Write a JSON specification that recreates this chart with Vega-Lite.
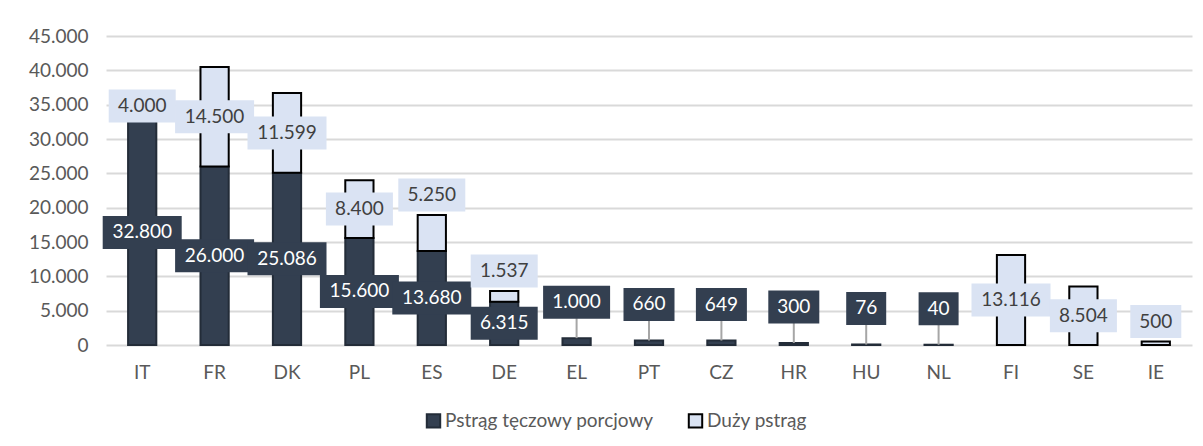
{
  "$schema": "https://vega.github.io/schema/vega-lite/v6.json",
  "width": 1086,
  "height": 309,
  "autosize": {"type": "none"},
  "padding": {"left": 106, "top": 36, "right": 11, "bottom": 101},
  "background": "#ffffff",
  "config": {
    "locale": {"number": {"decimal": ",", "thousands": ".", "grouping": [3], "currency": ["", ""]}},
    "view": {"stroke": null},
    "font": "Lato",
    "axisY": {"format": ",d", "tickCount": 9, "title": null, "ticks": false, "domain": false, "labelPadding": 18, "labelFont": "Lato", "labelFontSize": 19, "labelColor": "#595959", "gridColor": "#d9d9d9", "gridWidth": 2}
  },
  "data": {
    "values": [
      {"kraj": "IT", "seria": "Pstrąg tęczowy porcjowy", "wartosc": 32800},
      {"kraj": "IT", "seria": "Duży pstrąg", "wartosc": 4000},
      {"kraj": "FR", "seria": "Pstrąg tęczowy porcjowy", "wartosc": 26000},
      {"kraj": "FR", "seria": "Duży pstrąg", "wartosc": 14500},
      {"kraj": "DK", "seria": "Pstrąg tęczowy porcjowy", "wartosc": 25086},
      {"kraj": "DK", "seria": "Duży pstrąg", "wartosc": 11599},
      {"kraj": "PL", "seria": "Pstrąg tęczowy porcjowy", "wartosc": 15600},
      {"kraj": "PL", "seria": "Duży pstrąg", "wartosc": 8400},
      {"kraj": "ES", "seria": "Pstrąg tęczowy porcjowy", "wartosc": 13680},
      {"kraj": "ES", "seria": "Duży pstrąg", "wartosc": 5250},
      {"kraj": "DE", "seria": "Pstrąg tęczowy porcjowy", "wartosc": 6315},
      {"kraj": "DE", "seria": "Duży pstrąg", "wartosc": 1537},
      {"kraj": "EL", "seria": "Pstrąg tęczowy porcjowy", "wartosc": 1000},
      {"kraj": "PT", "seria": "Pstrąg tęczowy porcjowy", "wartosc": 660},
      {"kraj": "CZ", "seria": "Pstrąg tęczowy porcjowy", "wartosc": 649},
      {"kraj": "HR", "seria": "Pstrąg tęczowy porcjowy", "wartosc": 300},
      {"kraj": "HU", "seria": "Pstrąg tęczowy porcjowy", "wartosc": 76},
      {"kraj": "NL", "seria": "Pstrąg tęczowy porcjowy", "wartosc": 40},
      {"kraj": "FI", "seria": "Duży pstrąg", "wartosc": 13116},
      {"kraj": "SE", "seria": "Duży pstrąg", "wartosc": 8504},
      {"kraj": "IE", "seria": "Duży pstrąg", "wartosc": 500}
    ]
  },
  "transform": [
    {"stack": "wartosc", "groupby": ["kraj"], "sort": [{"field": "seria", "order": "descending"}], "as": ["y0", "y1"]}
  ],
  "encoding": {
    "x": {
      "field": "kraj", "type": "nominal",
      "sort": ["IT", "FR", "DK", "PL", "ES", "DE", "EL", "PT", "CZ", "HR", "HU", "NL", "FI", "SE", "IE"],
      "scale": {"paddingInner": 0.61, "paddingOuter": 0.305},
      "axis": {"title": null, "labelAngle": 0, "ticks": false, "domain": false, "labelPadding": 18, "labelFont": "Lato", "labelFontSize": 19, "labelColor": "#595959"}
    }
  },
  "layer": [
    {
      "mark": {"type": "bar", "strokeWidth": 2},
      "encoding": {
        "y": {
          "field": "y1", "type": "quantitative",
          "scale": {"domain": [0, 45000], "nice": false},
          "axis": {"title": null, "format": ",d", "tickCount": 9}
        },
        "y2": {"field": "y0"},
        "color": {
          "field": "seria", "type": "nominal",
          "scale": {"domain": ["Pstrąg tęczowy porcjowy", "Duży pstrąg"], "range": ["#333f50", "#dae3f3"]},
          "legend": {"title": null, "orient": "none", "legendX": 318, "legendY": 375, "direction": "horizontal", "symbolType": "square", "symbolSize": 180, "symbolStrokeWidth": 2, "labelFont": "Lato", "labelFontSize": 19, "labelColor": "#595959", "labelLimit": 400, "columnPadding": 30, "labelOffset": 2}
        },
        "stroke": {
          "field": "seria", "type": "nominal",
          "scale": {"domain": ["Pstrąg tęczowy porcjowy", "Duży pstrąg"], "range": ["#232c38", "#000000"]},
          "legend": {"title": null, "orient": "none", "legendX": 318, "legendY": 375, "direction": "horizontal", "symbolType": "square", "symbolSize": 180, "symbolStrokeWidth": 2, "labelFont": "Lato", "labelFontSize": 19, "labelColor": "#595959", "labelLimit": 400, "columnPadding": 30, "labelOffset": 2}
        }
      }
    },
    {
      "transform": [{"filter": "datum.seria == 'Pstrąg tęczowy porcjowy' && datum.wartosc < 2000"}],
      "mark": {"type": "rule", "color": "#a6a6a6", "strokeWidth": 2, "y2Offset": -20},
      "encoding": {
        "y": {"field": "y1", "type": "quantitative"},
        "y2": {"field": "y1"}
      }
    },
    {
      "transform": [
        {"fold": ["y0", "y1"], "as": ["k", "v"]},
        {"aggregate": [{"op": "mean", "field": "v", "as": "mid"}], "groupby": ["kraj", "seria", "wartosc", "y1"]}
      ],
      "layer": [
        {
          "transform": [{"filter": "!((datum.seria == 'Pstrąg tęczowy porcjowy' && datum.wartosc < 2000) || (datum.seria == 'Duży pstrąg' && datum.wartosc < 6000 && datum.y1 < 20000))"}],
          "layer": [
            {
              "mark": {"type": "tick", "orient": "horizontal", "thickness": 33, "opacity": 1},
              "encoding": {
                "y": {"field": "mid", "type": "quantitative"},
                "color": {"field": "seria", "type": "nominal"},
                "size": {"field": "wartosc", "type": "quantitative", "scale": {"type": "threshold", "domain": [100, 1000, 10000], "range": [40, 51, 67, 79]}, "legend": null}
              }
            },
            {
              "mark": {"type": "text", "font": "Lato", "fontSize": 19, "baseline": "middle", "align": "center"},
              "encoding": {
                "y": {"field": "mid", "type": "quantitative"},
                "text": {"field": "wartosc", "type": "quantitative", "format": ","},
                "fill": {"condition": {"test": "datum.seria == 'Duży pstrąg'", "value": "#404040"}, "value": "#ffffff"}
              }
            }
          ]
        },
        {
          "transform": [{"filter": "datum.seria == 'Pstrąg tęczowy porcjowy' && datum.wartosc < 2000"}],
          "layer": [
            {
              "mark": {"type": "tick", "orient": "horizontal", "thickness": 33, "opacity": 1, "yOffset": -36},
              "encoding": {
                "y": {"field": "y1", "type": "quantitative"},
                "color": {"field": "seria", "type": "nominal"},
                "size": {"field": "wartosc", "type": "quantitative", "scale": {"type": "threshold", "domain": [100, 1000, 10000], "range": [40, 51, 67, 79]}, "legend": null}
              }
            },
            {
              "mark": {"type": "text", "font": "Lato", "fontSize": 19, "baseline": "middle", "align": "center", "yOffset": -36, "fill": "#ffffff"},
              "encoding": {
                "y": {"field": "y1", "type": "quantitative"},
                "text": {"field": "wartosc", "type": "quantitative", "format": ","}
              }
            }
          ]
        },
        {
          "transform": [{"filter": "datum.seria == 'Duży pstrąg' && datum.wartosc < 6000 && datum.y1 < 20000"}],
          "layer": [
            {
              "mark": {"type": "tick", "orient": "horizontal", "thickness": 33, "opacity": 1, "yOffset": -20},
              "encoding": {
                "y": {"field": "y1", "type": "quantitative"},
                "color": {"field": "seria", "type": "nominal"},
                "size": {"field": "wartosc", "type": "quantitative", "scale": {"type": "threshold", "domain": [100, 1000, 10000], "range": [40, 51, 67, 79]}, "legend": null}
              }
            },
            {
              "mark": {"type": "text", "font": "Lato", "fontSize": 19, "baseline": "middle", "align": "center", "yOffset": -20, "fill": "#404040"},
              "encoding": {
                "y": {"field": "y1", "type": "quantitative"},
                "text": {"field": "wartosc", "type": "quantitative", "format": ","}
              }
            }
          ]
        }
      ]
    }
  ]
}
